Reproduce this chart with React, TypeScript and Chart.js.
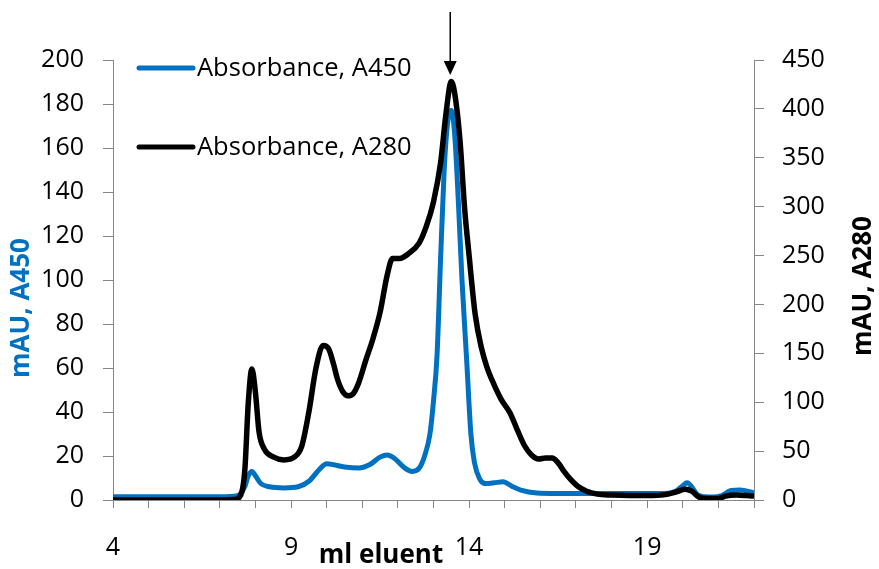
import React, { useEffect, useRef } from "react";
import { Chart, registerables } from "chart.js";

Chart.register(...registerables);

// ---- data ----
const X_LABELED = [4, 9, 14, 19];
const LEGEND_LABELS = ["Absorbance, A450", "Absorbance, A280"];
const LEFT_TITLE = "mAU, A450";
const RIGHT_TITLE = "mAU, A280";
const X_TITLE = "ml eluent";
const ARROW_X = 13.47;

const A450_X = [4, 5, 6, 7, 7.5, 7.7, 7.8, 7.9, 8.0, 8.15, 8.4, 8.8, 9.2, 9.5, 9.8, 10.0, 10.2, 10.5, 10.9, 11.2, 11.5, 11.7, 11.9, 12.2, 12.4, 12.6, 12.75, 12.9, 13.0, 13.1, 13.2, 13.3, 13.4, 13.5, 13.6, 13.7, 13.8, 13.93, 14.05, 14.15, 14.3, 14.45, 14.7, 14.95, 15.2, 15.45, 15.9, 16.5, 17.5, 18.5, 19.5, 19.8, 20.0, 20.12, 20.25, 20.4, 20.6, 20.9, 21.1, 21.35, 21.6, 22];
const A450_Y = [1.5, 1.5, 1.5, 1.5, 2, 6, 11, 13, 11, 7.5, 6, 5.5, 6, 8.5, 14, 16.5, 16, 15, 14.5, 16, 19.5, 20.5, 19, 14.5, 13, 14.5, 20, 30, 45, 66, 110, 150, 172, 177, 165, 135, 100, 64, 30, 17, 9.5, 7.5, 7.8, 8.3, 6.3, 4.5, 3.2, 3, 3, 3, 3, 4, 6.5, 7.8, 6, 2.5, 1.5, 1.4, 2, 4.3, 4.5, 3.3];

const A280_X = [4, 5, 6, 7, 7.4, 7.55, 7.7, 7.8, 7.9, 8.0, 8.1, 8.25, 8.5, 8.8, 9.1, 9.3, 9.5, 9.7, 9.9, 10.05, 10.2, 10.3, 10.45, 10.6, 10.75, 10.9, 11.1, 11.3, 11.5, 11.7, 11.85, 12.05, 12.3, 12.6, 12.8, 13.0, 13.2, 13.35, 13.5, 13.62, 13.75, 13.87, 14.0, 14.17, 14.35, 14.5, 14.7, 14.9, 15.15, 15.35, 15.55, 15.75, 15.95, 16.15, 16.33, 16.5, 16.65, 16.85, 17.05, 17.3, 17.6, 18.0, 18.5, 19.0, 19.5, 19.8, 20.07, 20.25, 20.45, 20.7, 21.0, 21.2, 21.5, 21.8, 22.0];
const A280_Y = [0, 0, 0, 0, 0.5, 3, 30, 100, 134, 110, 70, 52, 44, 41, 44, 55, 90, 135, 158, 155, 138, 124, 111, 106.5, 109, 120, 143, 165, 192, 230, 247, 247, 252, 263, 280, 305, 345, 395, 428, 410, 365, 300, 250, 190, 155, 136, 118, 103, 89, 72, 56, 46, 42, 43, 43, 38, 30, 21, 14, 9, 6, 5, 4.5, 4.5, 5.5, 8, 11, 9, 3, 1.5, 1.5, 4, 5, 4.5, 4];

const BLUE = "#0070C0";
const AXIS_GRAY = "#868686";
const FONT = '"Open Sans", "DejaVu Sans", sans-serif';

export default function App() {
  const ref = useRef<HTMLCanvasElement>(null);

  useEffect(() => {
    document.body.style.margin = "0";
    const canvas = ref.current;
    if (!canvas) return;

    const overlay = {
      id: "overlay",
      afterDraw(chart: any) {
        const c = chart.ctx as CanvasRenderingContext2D;
        const xs = chart.scales.x;
        c.save();
        // legend
        const items = [
          { label: LEGEND_LABELS[0], color: BLUE, y: 68 },
          { label: LEGEND_LABELS[1], color: "#000", y: 147 },
        ];
        items.forEach((it) => {
          c.strokeStyle = it.color;
          c.lineWidth = 5;
          c.lineCap = "round";
          c.beginPath();
          c.moveTo(139, it.y);
          c.lineTo(193, it.y);
          c.stroke();
          c.fillStyle = "#000";
          c.font = `25.5px ${FONT}`;
          c.textAlign = "left";
          c.textBaseline = "middle";
          c.fillText(it.label, 197, it.y + 1);
        });
        // axis titles
        c.font = `bold 26px ${FONT}`;
        c.textAlign = "center";
        c.textBaseline = "middle";
        c.save();
        c.translate(22, 308);
        c.rotate(-Math.PI / 2);
        c.fillStyle = BLUE;
        c.fillText(LEFT_TITLE, 0, 0);
        c.restore();
        c.save();
        c.translate(864, 286);
        c.rotate(-Math.PI / 2);
        c.fillStyle = "#000";
        c.fillText(RIGHT_TITLE, 0, 0);
        c.restore();
        c.fillStyle = "#000";
        c.fillText(X_TITLE, 381, 556);
        // arrow
        const ax = xs.getPixelForValue(ARROW_X);
        c.strokeStyle = "#000";
        c.lineWidth = 1.5;
        c.lineCap = "butt";
        c.beginPath();
        c.moveTo(ax, 12);
        c.lineTo(ax, 64);
        c.stroke();
        c.fillStyle = "#000";
        c.beginPath();
        c.moveTo(ax - 6.5, 61);
        c.lineTo(ax + 6.5, 61);
        c.lineTo(ax, 75);
        c.closePath();
        c.fill();
        c.restore();
      },
    };

    const chart = new Chart(canvas, {
      type: "line",
      data: {
        datasets: [
          {
            label: LEGEND_LABELS[0],
            data: A450_X.map((x, i) => ({ x, y: A450_Y[i] })),
            borderColor: BLUE,
            borderWidth: 5,
            pointRadius: 0,
            cubicInterpolationMode: "monotone",
            yAxisID: "y",
            order: 2,
          },
          {
            label: LEGEND_LABELS[1],
            data: A280_X.map((x, i) => ({ x, y: A280_Y[i] })),
            borderColor: "#000",
            borderWidth: 5.5,
            pointRadius: 0,
            cubicInterpolationMode: "monotone",
            yAxisID: "y2",
            order: 1,
          },
        ],
      },
      options: {
        responsive: false,
        animation: false,
        layout: { padding: { top: 60, left: 0, right: 0, bottom: 0 } },
        plugins: { legend: { display: false }, tooltip: { enabled: false } },
        scales: {
          x: {
            type: "linear",
            min: 4,
            max: 22,
            afterFit: (s: any) => {
              s.height = 69;
            },
            border: { display: true, color: AXIS_GRAY, width: 1 },
            grid: { drawOnChartArea: false, drawTicks: true, tickLength: 8, color: AXIS_GRAY },
            ticks: {
              stepSize: 1,
              autoSkip: false,
              maxRotation: 0,
              padding: 25,
              color: "#000",
              font: { family: FONT, size: 25 },
              callback: (v: any) => (X_LABELED.includes(Number(v)) ? String(v) : ""),
            },
          },
          y: {
            position: "left",
            min: 0,
            max: 200,
            afterFit: (s: any) => {
              s.width = 113;
            },
            border: { display: true, color: AXIS_GRAY, width: 1 },
            grid: { drawOnChartArea: false, drawTicks: true, tickLength: 10, color: AXIS_GRAY },
            ticks: { stepSize: 20, padding: 19, color: "#000", font: { family: FONT, size: 25 } },
          },
          y2: {
            position: "right",
            min: 0,
            max: 450,
            afterFit: (s: any) => {
              s.width = 125;
            },
            border: { display: true, color: AXIS_GRAY, width: 1 },
            grid: { drawOnChartArea: false, drawTicks: true, tickLength: 10, color: AXIS_GRAY },
            ticks: { stepSize: 50, padding: 18, color: "#000", font: { family: FONT, size: 25 } },
          },
        },
      },
      plugins: [overlay],
    } as any);

    return () => chart.destroy();
  }, []);

  return (
    <div style={{ width: 879, height: 569 }}>
      <canvas ref={ref} width={879} height={569} style={{ display: "block" }} />
    </div>
  );
}
